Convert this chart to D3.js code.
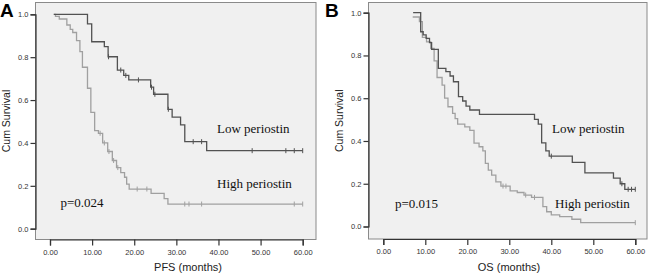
<!DOCTYPE html>
<html>
<head>
<meta charset="utf-8">
<script src="https://cdn.jsdelivr.net/npm/d3@7"></script>
<style>
  body { margin: 0; background: #fff; }
  svg { display: block; }
</style>
</head>
<body>
<div id="chart"></div>
<script>
// Kaplan-Meier curves: [time in months, cum survival]
const pfsLowSteps = [[0.9,1.0],[8.9,0.955],[9.9,0.872],[12.9,0.849],[13.8,0.802],[16,0.74],[17.5,0.715],[18.7,0.694],[23.9,0.66],[24.6,0.627],[28,0.557],[29,0.52],[31,0.484],[32,0.406],[37.2,0.364]];
const pfsLowCensor = [13.9,16.8,18,21,24.1,24.9,28.1,34,36,48,56,58,60];
const pfsHighSteps = [[0.9,1.0],[1.3,0.99],[2.2,0.978],[4.0,0.95],[4.8,0.93],[5.4,0.915],[6.3,0.877],[7.1,0.826],[7.7,0.753],[8.9,0.655],[9.7,0.543],[10.6,0.457],[11.5,0.445],[12.5,0.40],[13.7,0.36],[14.8,0.318],[15.8,0.285],[16.8,0.262],[17.7,0.24],[18.2,0.208],[18.8,0.185],[24,0.165],[27.1,0.14],[28,0.115]];
const pfsHighCensor = [11.9,12.9,14.0,15.1,16.1,20.7,23,32,33,36,58,60];

const osLowSteps = [[7.1,1.0],[8.9,0.911],[9.5,0.896],[10.2,0.88],[11,0.86],[11.5,0.828],[13.1,0.74],[14.9,0.724],[15.9,0.704],[16.7,0.677],[17.9,0.607],[18.9,0.587],[19.7,0.563],[20.6,0.545],[22.9,0.524],[36,0.501],[36.9,0.479],[37.7,0.391],[38.7,0.354],[39.5,0.329],[45,0.30],[48,0.251],[54.8,0.226],[56.4,0.2],[57.5,0.174]];
const osLowCensor = [40,56.8,58.3,59.1,60];
const osHighSteps = [[7.0,0.98],[8.6,0.958],[9.3,0.885],[10.3,0.864],[11.3,0.833],[12.1,0.775],[12.8,0.697],[14,0.661],[14.6,0.6],[15.4,0.56],[16.5,0.529],[17.1,0.505],[17.7,0.479],[19.4,0.466],[20.6,0.45],[21.6,0.39],[22.8,0.373],[23.7,0.354],[24.3,0.295],[25,0.264],[25.8,0.24],[26.8,0.209],[28,0.189],[30.2,0.167],[31.9,0.159],[33.5,0.147],[35.3,0.136],[38,0.093],[38.9,0.069],[40,0.054],[42,0.046],[44.9,0.034],[47,0.018]];
const osHighCensor = [28.5,29.2,33.9,36,60];

const xTicks = [0,10,20,30,40,50,60];
const yTicks = [0,0.2,0.4,0.6,0.8,1.0];

const width = 650, height = 276;

const svg = d3.select("#chart").append("svg")
    .attr("width", width)
    .attr("height", height);

// value of the step function at time t
function survAt(steps, t) {
    let s = steps[0][1];
    steps.forEach(d => { if (d[0] <= t) s = d[1]; });
    return s;
}

function drawPanel(p) {
    const g = svg.append("g");
    const x = d3.scaleLinear().domain([0, 60]).range([p.x0, p.x60]);
    const y = d3.scaleLinear().domain([0, 1]).range([p.y0, p.y1]);

    // plot area
    g.append("rect")
        .attr("x", p.left).attr("y", p.top)
        .attr("width", p.right - p.left).attr("height", p.bottom - p.top)
        .attr("fill", "#f0f0f0")
        .attr("stroke", "#8a8a8a")
        .attr("stroke-width", 1);

    const yAxis = g.append("g")
        .attr("transform", `translate(${p.left},0)`)
        .call(d3.axisLeft(y).tickValues(yTicks).tickFormat(d3.format(".1f")).tickSize(5).tickPadding(2));
    const xAxis = g.append("g")
        .attr("transform", `translate(0,${p.bottom})`)
        .call(d3.axisBottom(x).tickValues(xTicks).tickFormat(d3.format(".2f")).tickSize(6).tickPadding(4));
    [yAxis, xAxis].forEach(a => {
        a.select(".domain").attr("stroke", "#333").attr("stroke-width", 1.2);
        a.selectAll(".tick line").attr("stroke", "#333").attr("stroke-width", 1.2);
        a.selectAll("text")
            .attr("fill", "#333")
            .style("font-family", "'Liberation Sans', Arial, sans-serif")
            .style("font-size", "7.5px");
    });

    const line = d3.line()
        .x(d => x(d[0]))
        .y(d => y(d[1]))
        .curve(d3.curveStepAfter);

    p.series.forEach(s => {
        const last = s.steps[s.steps.length - 1];
        const end = d3.max(s.censor.concat([last[0]]));
        const pts = s.steps.concat([[end, last[1]]]);
        g.append("path")
            .datum(pts)
            .attr("fill", "none")
            .attr("stroke", s.color)
            .attr("stroke-width", 1.3)
            .attr("d", line);
        g.selectAll(null)
            .data(s.censor)
            .join("line")
            .attr("x1", d => x(d)).attr("x2", d => x(d))
            .attr("y1", d => y(survAt(s.steps, d)) - 2.5)
            .attr("y2", d => y(survAt(s.steps, d)) + 2.5)
            .attr("stroke", s.color)
            .attr("stroke-width", 1);
    });

    // panel letter
    g.append("text")
        .attr("x", p.letterX).attr("y", 17)
        .style("font-family", "'Liberation Sans', Arial, sans-serif")
        .style("font-weight", "bold")
        .style("font-size", "19px")
        .text(p.letter);

    g.append("text")
        .attr("transform", `translate(${p.left - 29.5},${(p.top + p.bottom) / 2}) rotate(-90)`)
        .attr("text-anchor", "middle")
        .attr("dy", "0.35em")
        .style("font-family", "'Liberation Sans', Arial, sans-serif")
        .style("font-size", "10.5px")
        .attr("fill", "#222")
        .text("Cum Survival");

    g.append("text")
        .attr("x", p.titleX).attr("y", 267)
        .attr("text-anchor", "middle")
        .attr("dy", "0.35em")
        .style("font-family", "'Liberation Sans', Arial, sans-serif")
        .style("font-size", "11px")
        .attr("fill", "#222")
        .text(p.title);

    p.notes.forEach(n => {
        g.append("text")
            .attr("x", n.x).attr("y", n.y)
            .attr("dy", "0.35em")
            .style("font-family", "'Liberation Serif', 'Times New Roman', serif")
            .style("font-size", "13px")
            .attr("fill", "#111")
            .text(n.text);
    });
}

drawPanel({
    letter: "A", letterX: 0,
    left: 35.5, right: 316, top: 2.5, bottom: 239.5,
    x0: 50, x60: 302.7, y0: 228.7, y1: 14.3,
    title: "PFS (months)", titleX: 188,
    series: [
        { steps: pfsHighSteps, censor: pfsHighCensor, color: "#a0a0a0" },
        { steps: pfsLowSteps, censor: pfsLowCensor, color: "#525252" }
    ],
    notes: [
        { text: "Low periostin", x: 217, y: 128 },
        { text: "High periostin", x: 217, y: 183 },
        { text: "p=0.024", x: 60.5, y: 202 }
    ]
});

drawPanel({
    letter: "B", letterX: 325,
    left: 368.5, right: 647, top: 2.5, bottom: 239,
    x0: 383.3, x60: 635.3, y0: 226.5, y1: 12.7,
    title: "OS (months)", titleX: 509,
    series: [
        { steps: osHighSteps, censor: osHighCensor, color: "#a0a0a0" },
        { steps: osLowSteps, censor: osLowCensor, color: "#525252" }
    ],
    notes: [
        { text: "Low periostin", x: 552, y: 128 },
        { text: "High periostin", x: 555, y: 203 },
        { text: "p=0.015", x: 395, y: 203 }
    ]
});
</script>
</body>
</html>
